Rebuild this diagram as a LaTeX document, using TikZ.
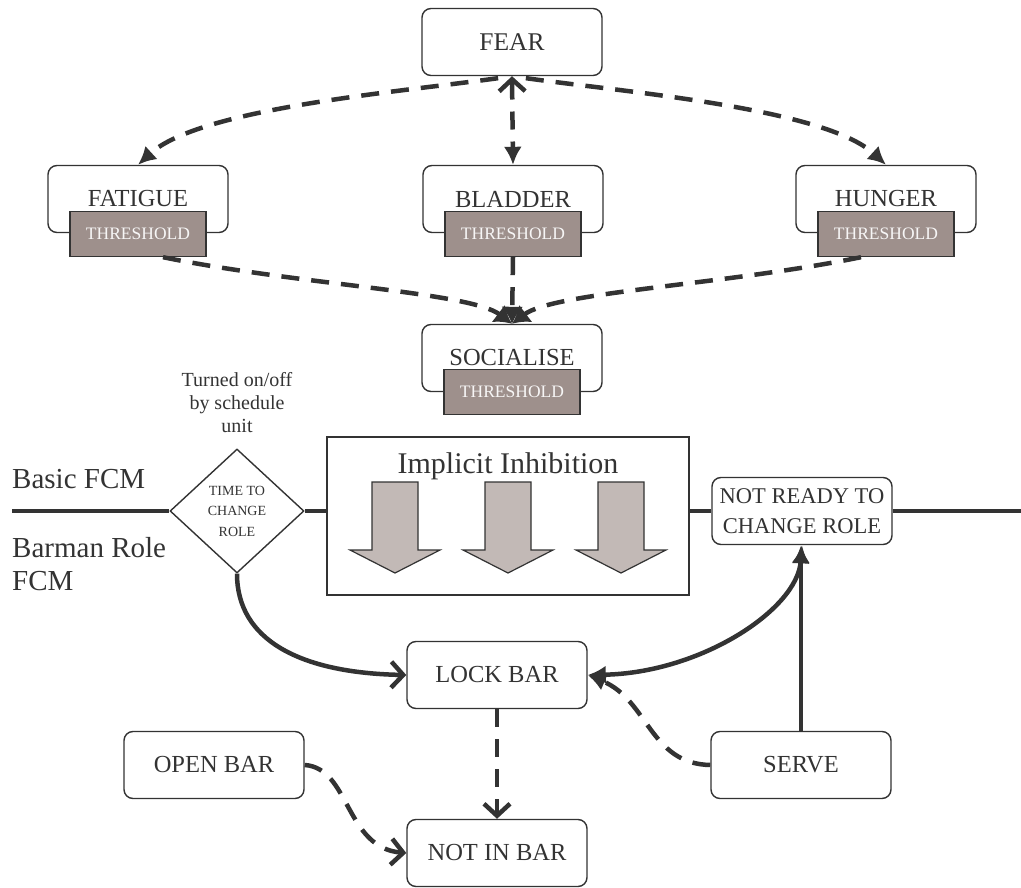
\documentclass[tikz,border=0pt]{standalone}
\usepackage{fontspec}
\setmainfont{Liberation Serif}
\usetikzlibrary{arrows.meta,shapes.geometric}
\definecolor{ink}{HTML}{333333}
\definecolor{thr}{HTML}{9E908C}
\definecolor{blk}{HTML}{C2B9B6}
\newcommand\fsz[2]{\fontsize{#1pt}{#2pt}\selectfont}

\tikzset{
  box/.style={draw=ink, line width=1.4pt, rounded corners=9pt, fill=white, text=ink,
    minimum width=180pt, minimum height=67pt, inner sep=0pt, align=center, font=\fsz{24.5}{30}},
  thrbox/.style={draw=ink, line width=1.4pt, fill=thr, text=white!92!thr,
    minimum width=136pt, minimum height=45pt, inner sep=0pt, font=\fsz{17.5}{20}},
  plain/.style={text=ink, inner sep=0pt, align=center},
  dashlink/.style={draw=ink, line width=4.5pt, dash pattern=on 18pt off 12pt},
  solidlink/.style={draw=ink, line width=4.5pt},
  fcmline/.style={draw=ink, line width=4.5pt},
  barb/.tip={Straight Barb[length=12pt,width=26pt]},
  head/.tip={Latex[length=18pt,width=18pt]},
  joinhead/.tip={Latex[length=17pt,width=22pt]},
  blockarrow/.style={draw=ink, line width=1.2pt, fill=blk, line join=miter},
}

\begin{document}
\begin{tikzpicture}[x=1pt,y=-1pt]
\useasboundingbox (0,0) rectangle (1021,888);

% drive nodes
\node[box, font=\fsz{25.5}{30}] (fear) at (512,42) {FEAR};
\node[box] (fatigue) at (138,199) {FATIGUE};
\node[thrbox] (thrF) at (138,234) {THRESHOLD};
\node[box] (bladder) at (513,199) {BLADDER};
\node[thrbox] (thrB) at (513,234) {THRESHOLD};
\node[box] (hunger) at (886,199) {HUNGER};
\node[thrbox] (thrH) at (886,234) {THRESHOLD};
\node[box] (social) at (512,358) {SOCIALISE};
\node[thrbox] (thrS) at (512,392) {THRESHOLD};

% fear couples to each drive
\draw[dashlink, -{head}, shorten <=14pt] (fear.south) .. controls (400,92) and (200,108) .. (fatigue.north);
\draw[dashlink, -{head}, shorten <=14pt] (fear.south) .. controls (624,92) and (824,108) .. (hunger.north);
\draw[dashlink, {barb}-{head}] (fear.south) -- (bladder.north);

% drives feed socialise
\draw[dashlink, -{joinhead}] ([xshift=25pt]thrF.south) .. controls (300,285) and (470,292) .. (social.north);
\draw[dashlink, -{joinhead}] ([xshift=-25pt]thrH.south) .. controls (724,285) and (554,292) .. (social.north);
\draw[dashlink, -{joinhead}] (thrB.south) -- (social.north);

% layer labels
\node[plain, anchor=base west, font=\fsz{29}{33}] (basic) at (12,488) {Basic FCM};
\node[plain, anchor=base west, font=\fsz{29}{33}] (barman1) at (12,557) {Barman Role};
\node[plain, anchor=base west, font=\fsz{29}{33}] (barman2) at (12,590) {FCM};

% schedule switch
\node[draw=ink, line width=1.4pt, shape=diamond, fill=white, text=ink, inner sep=0pt,
  minimum width=134pt, minimum height=124pt, align=center, font=\fsz{14}{20.5}]
  (switch) at (237,511) {TIME TO\\CHANGE\\ROLE};
\node[plain, anchor=south, font=\fsz{20}{23}] (sched) at (237,433) {Turned on/off\\by schedule\\unit};

% implicit inhibition block
\node[draw=ink, line width=1.4pt, fill=white, minimum width=362pt, minimum height=158pt, inner sep=0pt]
  (inhib) at (508,516) {};
\node[plain, anchor=base, font=\fsz{30}{34}] (inhibtitle) at (508,473) {Implicit Inhibition};
\foreach \cx in {395,508,621}{
  \draw[blockarrow] (\cx-23,482) -- (\cx+23,482) -- (\cx+23,550) -- (\cx+45,550)
    -- (\cx,573) -- (\cx-45,550) -- (\cx-23,550) -- cycle;
}

\node[box, font=\fsz{22.5}{30}] (notready) at (802,511) {NOT READY TO\\CHANGE ROLE};

% boundary line between the two maps
\coordinate (lineL) at (12,511);
\coordinate (lineR) at (1021,511);
\draw[fcmline] (lineL) -- (switch.west);
\draw[fcmline] (switch.east) -- (switch.east -| inhib.west);
\draw[fcmline] (notready.west -| inhib.east) -- (notready.west);
\draw[fcmline] (notready.east) -- (lineR);

% barman role nodes
\node[box] (lock) at (497,675) {LOCK BAR};
\node[box] (serve) at (801,765) {SERVE};
\node[box] (open) at (214,765) {OPEN BAR};
\node[box] (notin) at (497,853) {NOT IN BAR};

\draw[solidlink, -{barb}] (switch.south) .. controls (237,640) and (300,673) .. (lock.west);
\draw[solidlink, {head}-{head}] (lock.east) .. controls (700,673) and (797,610) .. (notready.south);
\draw[solidlink, -{head}] (serve.north) -- (notready.south -| serve.north);
\draw[dashlink, -{head}] (serve.west) .. controls (650,764) and (648,700) .. (lock.east);
\draw[dashlink, -{barb}] (lock.south) -- (notin.north);
\draw[dashlink, -{barb}] (open.east) .. controls (350,768) and (345,848) .. (notin.west);

\end{tikzpicture}
\end{document}
